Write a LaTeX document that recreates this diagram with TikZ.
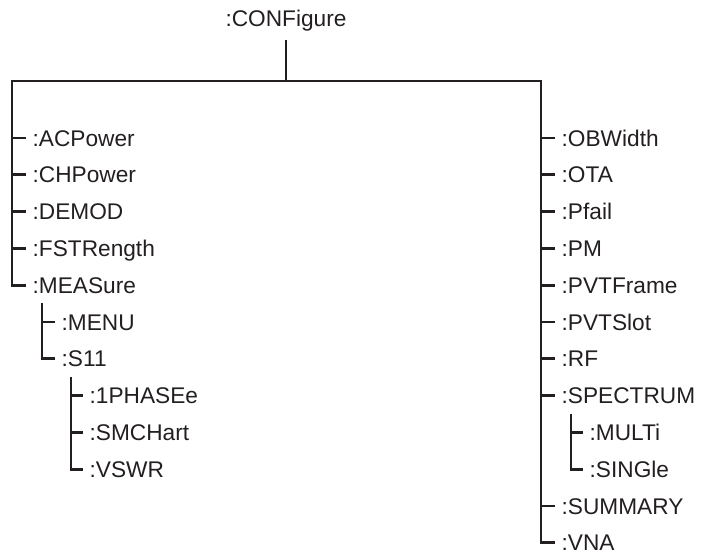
\documentclass[tikz,border=0pt]{standalone}
\usepackage{fontspec}
\setmainfont{Liberation Sans}
\usetikzlibrary{positioning}
\definecolor{ink}{HTML}{231F20}

\begin{document}
\begin{tikzpicture}[x=0.75pt,y=-0.75pt,
  cmd/.style={anchor=west,inner xsep=5pt,inner ysep=7.5pt,outer sep=0pt,
    text height=12.2pt,text depth=0pt,font=\fontsize{17}{20}\selectfont,text=ink},
  branch/.style={draw=ink,line width=2.2pt}]
  \useasboundingbox (0,0) rectangle (702,553);

  \node[cmd,anchor=center] (conf) at (286,18) {:CONFigure};
  \coordinate (top) at (286,81);
  \coordinate (tl) at (12,81);
  \coordinate (tr) at (541,81);

  % left column
  \foreach \n/\t [count=\i] in {acp/ACPower,chp/CHPower,demod/DEMOD,fstr/FSTRength,meas/MEASure}
    \node[cmd] (\n) at (26,{138+36.8*(\i-1)}) {:\t};
  \node[cmd] (menu) at (55,322) {:MENU};
  \node[cmd] (s11) at (55,358.8) {:S11};
  \foreach \n/\t [count=\i] in {phase/1PHASEe,smch/SMCHart,vswr/VSWR}
    \node[cmd] (\n) at (83,{395.6+36.8*(\i-1)}) {:\t};

  % right column
  \foreach \n/\t [count=\i] in {obw/OBWidth,ota/OTA,pfail/Pfail,pm/PM,pvtf/PVTFrame,pvts/PVTSlot,rf/RF,spec/SPECTRUM}
    \node[cmd] (\n) at (555,{138+36.8*(\i-1)}) {:\t};
  \node[cmd] (multi) at (583,432.4) {:MULTi};
  \node[cmd] (single) at (583,469.2) {:SINGle};
  \node[cmd] (summ) at (555,506) {:SUMMARY};
  \node[cmd] (vna) at (555,542.8) {:VNA};

  % branches
  \draw[branch,shorten <=3pt] (conf.south) -- (top);
  \draw[branch] (meas.west) -| (tl) -- (tr) |- (vna.west);
  \foreach \n in {acp,chp,demod,fstr}
    \draw[branch] (tl |- \n.west) -- (\n.west);
  \foreach \n in {obw,ota,pfail,pm,pvtf,pvts,rf,spec,summ}
    \draw[branch] (tr |- \n.west) -- (\n.west);

  \coordinate (measx) at ([xshift=12pt]meas.south west);
  \draw[branch] (measx) |- (s11.west);
  \draw[branch] (measx |- menu.west) -- (menu.west);

  \coordinate (s11x) at ([xshift=12pt]s11.south west);
  \draw[branch] (s11x) |- (vswr.west);
  \foreach \n in {phase,smch}
    \draw[branch] (s11x |- \n.west) -- (\n.west);

  \coordinate (specx) at ([xshift=12pt]spec.south west);
  \draw[branch] (specx) |- (single.west);
  \draw[branch] (specx |- multi.west) -- (multi.west);
\end{tikzpicture}
\end{document}
